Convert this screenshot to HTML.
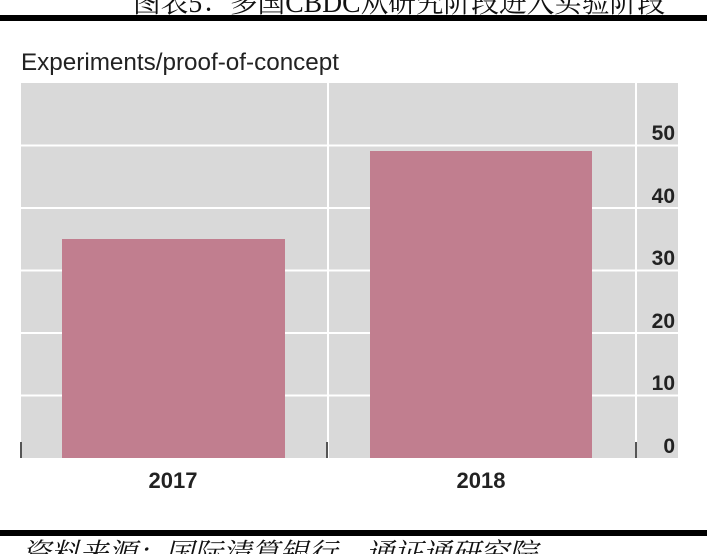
<!DOCTYPE html>
<html>
<head>
<meta charset="utf-8">
<style>
html,body{margin:0;padding:0;background:#fff;}
svg{display:block;}
</style>
</head>
<body>
<svg width="707" height="554" viewBox="0 0 707 554" xmlns="http://www.w3.org/2000/svg">
  <rect width="707" height="554" fill="#ffffff"/>
  <!-- Title (cut off at top) -->
  <text x="133" y="12" textLength="532" lengthAdjust="spacingAndGlyphs" font-family="'Liberation Serif','Noto Serif CJK SC',serif" font-size="29" fill="#111">图表5：多国CBDC从研究阶段进入实验阶段</text>
  <rect x="0" y="15" width="707" height="6" fill="#000"/>

  <!-- Chart subtitle -->
  <text x="21" y="70" textLength="318" lengthAdjust="spacingAndGlyphs" font-family="'Liberation Sans',sans-serif" font-size="24" fill="#222">Experiments/proof-of-concept</text>

  <!-- Plot area -->
  <rect x="21" y="83" width="657" height="375" fill="#d9d9d9"/>
  <!-- horizontal gridlines -->
  <g stroke="#ffffff" stroke-width="2">
    <line x1="21" y1="145.5" x2="678" y2="145.5"/>
    <line x1="21" y1="208" x2="678" y2="208"/>
    <line x1="21" y1="270.5" x2="678" y2="270.5"/>
    <line x1="21" y1="333" x2="678" y2="333"/>
    <line x1="21" y1="395.5" x2="678" y2="395.5"/>
    <line x1="328" y1="83" x2="328" y2="458"/>
    <line x1="636" y1="83" x2="636" y2="458"/>
  </g>
  <!-- bars -->
  <rect x="62" y="239" width="223" height="219" fill="#c17e8f"/>
  <rect x="370" y="151" width="222" height="307" fill="#c17e8f"/>

  <!-- ticks -->
  <g stroke="#555" stroke-width="2">
    <line x1="21" y1="442" x2="21" y2="458"/>
    <line x1="327" y1="442" x2="327" y2="458"/>
    <line x1="636" y1="442" x2="636" y2="458"/>
  </g>

  <!-- y labels -->
  <g font-family="'Liberation Sans',sans-serif" font-size="21" font-weight="bold" fill="#222" text-anchor="end">
    <text x="675" y="140">50</text>
    <text x="675" y="203">40</text>
    <text x="675" y="265">30</text>
    <text x="675" y="328">20</text>
    <text x="675" y="390">10</text>
    <text x="675" y="453">0</text>
  </g>

  <!-- x labels -->
  <g font-family="'Liberation Sans',sans-serif" font-size="22" font-weight="bold" fill="#222" text-anchor="middle">
    <text x="173" y="488">2017</text>
    <text x="481" y="488">2018</text>
  </g>

  <!-- bottom rule and source -->
  <rect x="0" y="530" width="707" height="6" fill="#000"/>
  <text x="22" y="563" textLength="515" lengthAdjust="spacingAndGlyphs" font-family="'Liberation Serif','Noto Serif CJK SC',serif" font-size="28" font-style="italic" fill="#111">资料来源：国际清算银行，通证通研究院</text>
</svg>
</body>
</html>
